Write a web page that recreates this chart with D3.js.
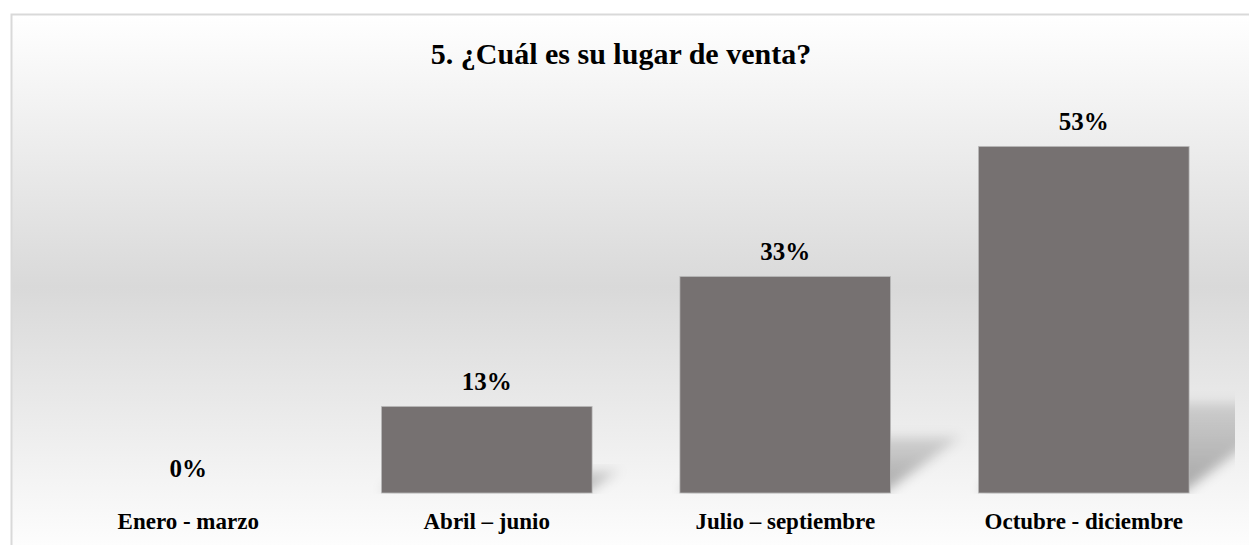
<!DOCTYPE html>
<html>
<head>
<meta charset="utf-8">
<script src="https://cdn.jsdelivr.net/npm/d3@7"></script>
<style>
  body { margin: 0; background: #fff; }
  text { font-family: "Liberation Serif", "Times New Roman", serif; font-weight: bold; fill: #000; }
</style>
</head>
<body>
<svg class="chart" width="1249" height="545"></svg>
<script>
// data
var categories = ["Enero - marzo", "Abril \u2013 junio", "Julio \u2013 septiembre", "Octubre - diciembre"];
var values = [0, 13.33, 33.33, 53.33];
var titleText = "5. \u00bfCu\u00e1l es su lugar de venta?";

var svg = d3.select(".chart");
var width = +svg.attr("width");
var height = +svg.attr("height");

var plot = {left: 39, right: 1233, base: 493};

var defs = svg.append("defs");

var bg = defs.append("linearGradient")
    .attr("id", "bgGrad")
    .attr("gradientUnits", "userSpaceOnUse")
    .attr("x1", 0).attr("y1", 14)
    .attr("x2", 0).attr("y2", 560);
bg.append("stop").attr("offset", "0%").attr("stop-color", "#ffffff");
bg.append("stop").attr("offset", "50%").attr("stop-color", "#d9d9d9");
bg.append("stop").attr("offset", "100%").attr("stop-color", "#ffffff");

// shadow fades as it moves away from the bar
var sg = defs.append("linearGradient")
    .attr("id", "shadowGrad")
    .attr("x1", 0).attr("y1", 1)
    .attr("x2", 0).attr("y2", 0);
sg.append("stop").attr("offset", "0%").attr("stop-color", "#000").attr("stop-opacity", 0.32);
sg.append("stop").attr("offset", "100%").attr("stop-color", "#000").attr("stop-opacity", 0.12);

defs.append("filter")
    .attr("id", "blur")
    .attr("x", "-30%").attr("y", "-30%")
    .attr("width", "160%").attr("height", "160%")
  .append("feGaussianBlur")
    .attr("stdDeviation", 6);

defs.append("clipPath")
    .attr("id", "plotClip")
  .append("rect")
    .attr("x", plot.left)
    .attr("y", 0)
    .attr("width", plot.right - plot.left + 2)
    .attr("height", plot.base + 1);

// chart area with gradient fill and light border
svg.append("rect")
    .attr("x", 11.5)
    .attr("y", 14.5)
    .attr("width", width)
    .attr("height", height)
    .attr("fill", "url(#bgGrad)")
    .attr("stroke", "#d9d9d9")
    .attr("stroke-width", 2);

var xScale = d3.scaleBand()
    .domain(categories)
    .range([plot.left, plot.right])
    .paddingInner(0.294)
    .paddingOuter(0.147);

var yScale = d3.scaleLinear()
    .domain([0, 60])
    .range([plot.base, plot.base - 390]);

var data = categories.map(function (c, i) { return {cat: c, value: values[i]}; });

// perspective shadows (diagonal upper right)
svg.append("g")
    .attr("clip-path", "url(#plotClip)")
  .selectAll(".shadow")
  .data(data.filter(function (d) { return d.value > 0; }))
  .enter().append("polygon")
    .attr("class", "shadow")
    .attr("points", function (d) {
        var x0 = xScale(d.cat);
        var x1 = x0 + xScale.bandwidth();
        var sh = (plot.base - yScale(d.value)) * 0.26;
        var dx = sh * 1.25;
        return [[x0, plot.base - 2], [x1 - 4, plot.base - 2], [x1 + dx, plot.base - sh], [x0 + dx, plot.base - sh]].join(" ");
    })
    .attr("fill", "url(#shadowGrad)")
    .attr("filter", "url(#blur)");

svg.append("g")
  .selectAll(".bar")
  .data(data)
  .enter().append("rect")
    .attr("class", "bar")
    .attr("x", function (d) { return xScale(d.cat); })
    .attr("y", function (d) { return yScale(d.value); })
    .attr("width", xScale.bandwidth())
    .attr("height", function (d) { return plot.base - yScale(d.value); })
    .attr("fill", "#767171")
    .attr("stroke", "#bfbfbf")
    .attr("stroke-width", function (d) { return d.value > 0 ? 0.75 : 0; });

svg.append("g")
  .selectAll(".label")
  .data(data)
  .enter().append("text")
    .attr("class", "label")
    .attr("x", function (d) { return xScale(d.cat) + xScale.bandwidth() / 2; })
    .attr("y", function (d) { return yScale(d.value) - 16; })
    .attr("text-anchor", "middle")
    .style("font-size", "25px")
    .text(function (d) { return d3.format(".0f")(d.value) + "%"; });

// category axis labels, no line
var xAxis = svg.append("g")
    .attr("transform", "translate(0," + plot.base + ")")
    .call(d3.axisBottom(xScale).tickSize(0).tickPadding(0));
xAxis.select(".domain").remove();
xAxis.selectAll("text")
    .attr("y", 36)
    .attr("dy", 0)
    .style("font-family", "'Liberation Serif', 'Times New Roman', serif")
    .style("font-weight", "bold")
    .style("font-size", "23px")
    .attr("fill", "#000");

svg.append("text")
    .attr("x", 621)
    .attr("y", 64)
    .attr("text-anchor", "middle")
    .style("font-size", "30px")
    .text(titleText);
</script>
</body>
</html>
